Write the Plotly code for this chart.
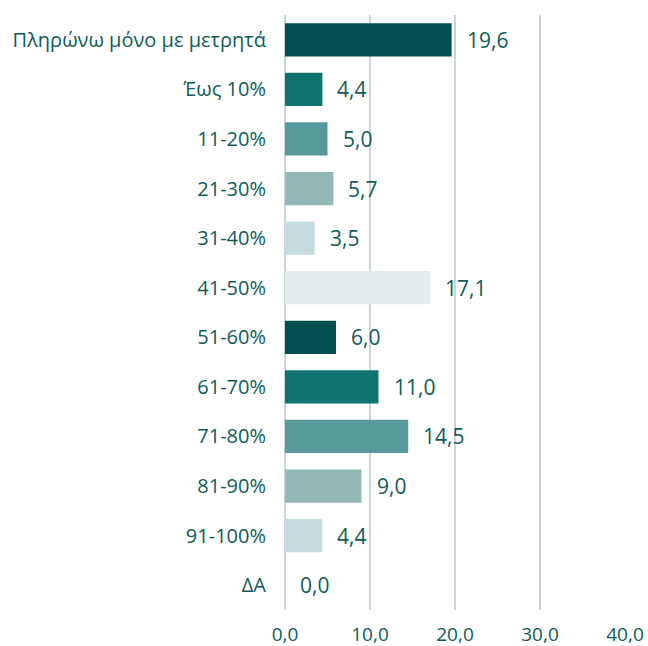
import plotly.graph_objects as go

categories = [
    "Πληρώνω μόνο με μετρητά", "Έως 10%", "11-20%", "21-30%", "31-40%",
    "41-50%", "51-60%", "61-70%", "71-80%", "81-90%", "91-100%", "ΔΑ",
]
values = [19.6, 4.4, 5.0, 5.7, 3.5, 17.1, 6.0, 11.0, 14.5, 9.0, 4.4, 0.0]
bar_colors = [
    "#01504f", "#10736f", "#58999a", "#92b9b6", "#c5dcdf", "#e2ebed",
    "#01504f", "#10736f", "#58999a", "#92b9b6", "#c5dcdf", "#e2ebed",
]
tick_vals = [0, 10, 20, 30, 40]

TEXT = "#0f5c5a"
GRID = "#c9d6d9"
FONT = "Open Sans"


def fmt(v):
    return f"{v:.1f}".replace(".", ",")


fig = go.Figure(
    go.Bar(
        x=values,
        y=categories,
        orientation="h",
        marker=dict(color=bar_colors, line=dict(width=0)),
        hoverinfo="skip",
    )
)

# value labels, offset a bit from the bar end
for cat, v in zip(categories, values):
    fig.add_annotation(
        x=v, y=cat, text=fmt(v),
        xanchor="left", yanchor="middle",
        xshift=13, showarrow=False,
        font=dict(size=21, color=TEXT, family=FONT),
    )

fig.update_layout(
    width=648,
    height=646,
    margin=dict(l=285, r=23, t=15, b=36, autoexpand=False),
    plot_bgcolor="white",
    paper_bgcolor="white",
    bargap=0.33,
    showlegend=False,
    font=dict(family=FONT, color=TEXT),
)

fig.update_xaxes(
    range=[0, 40],
    tickmode="array",
    tickvals=tick_vals,
    ticktext=[fmt(v) for v in tick_vals],
    tickfont=dict(size=19, color=TEXT),
    showgrid=True,
    gridcolor=GRID,
    gridwidth=2,
    zeroline=True,
    zerolinecolor=GRID,
    zerolinewidth=2,
    showline=False,
    ticks="",
    ticklabelstandoff=11,
    automargin=False,
)
fig.update_yaxes(
    autorange="reversed",
    tickfont=dict(size=20, color=TEXT),
    showgrid=False,
    ticks="",
    ticklabelstandoff=18,
    automargin=False,
)

# drop the browser's default page margin so the figure sits at 0,0
fig.write_html(
    "out.html",
    config={"displayModeBar": False},
    post_script="document.body.style.margin='0';",
)
